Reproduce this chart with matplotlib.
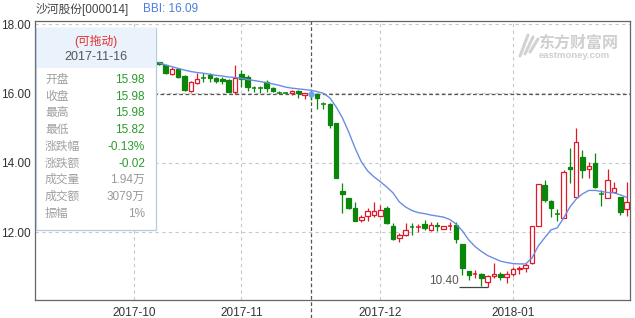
import matplotlib
matplotlib.use("Agg")
import matplotlib.pyplot as plt
from matplotlib.patches import Rectangle
import numpy as np

plt.rcParams['font.family'] = ['Liberation Sans', 'Noto Sans CJK SC', 'DejaVu Sans']

# trading-day index (0 = first trading day of 2017-10)
first_day = 4
opens = [16.90, 16.82, 16.57, 16.70, 16.51, 16.08, 16.29, 16.44, 16.52, 16.44,
         16.40, 16.38, 16.03, 16.56, 16.48, 16.16, 16.15, 16.34, 16.16, 16.03,
         16.02, 16.00, 16.08, 15.95, 15.98, 15.97, 15.70, 15.70, 15.14, 13.19,
         12.97, 12.68, 12.35, 12.46, 12.49, 12.47, 12.70, 12.17, 11.84, 11.91,
         12.16, 12.14, 12.23, 12.07, 12.20, 12.10, 12.15, 12.20, 11.65, 10.88,
         10.79, 10.79, 10.57, 10.73, 10.79, 10.70, 10.79, 10.93, 10.95, 11.10,
         12.18, 13.36, 12.89, 12.53, 12.41, 13.88, 13.02, 14.17, 13.81, 13.98,
         13.10, 12.99, 13.16, 13.02, 12.66]
highs = [16.91, 16.83, 16.76, 16.71, 16.52, 16.37, 16.58, 16.58, 16.58, 16.46,
         16.48, 16.41, 16.82, 16.67, 16.53, 16.22, 16.21, 16.38, 16.18, 16.06,
         16.05, 16.10, 16.10, 16.02, 15.98, 15.98, 15.76, 15.72, 15.14, 13.40,
         12.98, 12.87, 12.49, 12.68, 12.87, 12.78, 12.76, 12.27, 11.96, 12.27,
         12.25, 12.23, 12.34, 12.29, 12.29, 12.18, 12.30, 12.30, 11.65, 10.88,
         10.90, 10.83, 10.75, 11.10, 10.85, 10.88, 11.00, 11.02, 11.12, 12.16,
         13.38, 13.50, 12.91, 12.67, 13.80, 14.41, 14.99, 14.37, 14.01, 14.27,
         13.21, 13.81, 13.45, 13.02, 13.45]
lows = [16.83, 16.57, 16.52, 16.45, 16.08, 16.05, 16.27, 16.32, 16.34, 16.30,
        16.28, 16.03, 15.97, 16.19, 16.07, 16.03, 16.01, 16.03, 16.03, 15.97,
        15.97, 15.96, 15.87, 15.83, 15.82, 15.55, 15.55, 14.99, 13.55, 12.54,
        12.66, 12.31, 12.30, 12.33, 12.44, 12.45, 12.24, 11.77, 11.70, 11.88,
        11.91, 11.99, 12.07, 12.04, 12.04, 12.08, 12.06, 11.67, 10.76, 10.62,
        10.68, 10.45, 10.40, 10.67, 10.62, 10.52, 10.72, 10.79, 10.85, 11.07,
        12.18, 12.86, 12.44, 12.32, 12.40, 13.40, 13.00, 13.55, 13.57, 13.26,
        12.76, 12.99, 13.15, 12.49, 12.47]
closes = [16.84, 16.58, 16.70, 16.46, 16.10, 16.34, 16.41, 16.42, 16.44, 16.36,
          16.36, 16.05, 16.45, 16.41, 16.19, 16.14, 16.14, 16.16, 16.07, 16.01,
          16.01, 16.08, 16.00, 16.02, 15.98, 15.87, 15.67, 15.09, 13.57, 13.09,
          12.70, 12.33, 12.44, 12.62, 12.62, 12.64, 12.25, 11.80, 11.91, 12.06,
          12.14, 12.16, 12.13, 12.20, 12.16, 12.16, 12.18, 11.79, 10.95, 10.76,
          10.81, 10.68, 10.73, 10.79, 10.70, 10.79, 10.93, 10.96, 11.05, 12.16,
          13.38, 12.92, 12.70, 12.52, 13.74, 13.81, 14.61, 13.79, 13.90, 13.31,
          13.09, 13.50, 13.26, 12.59, 12.86]
bbi = [16.88, 16.82, 16.77, 16.72, 16.67, 16.63, 16.60, 16.58, 16.55, 16.52,
       16.50, 16.47, 16.46, 16.43, 16.40, 16.37, 16.34, 16.31, 16.27, 16.23,
       16.18, 16.15, 16.13, 16.11, 16.09, 16.05, 16.00, 15.87, 15.61, 15.29,
       14.88, 14.42, 14.02, 13.76, 13.59, 13.45, 13.30, 13.13, 12.87, 12.72,
       12.62, 12.56, 12.53, 12.49, 12.46, 12.43, 12.36, 12.23, 12.03, 11.77,
       11.58, 11.44, 11.32, 11.24, 11.16, 11.12, 11.09, 11.08, 11.08, 11.25,
       11.60, 11.83, 12.06, 12.12, 12.40, 12.72, 12.95, 13.10, 13.20, 13.20,
       13.17, 13.14, 13.13, 13.07, 13.00]

month_idx = [0, 17, 39, 60]
month_labels = ['2017-10', '2017-11', '2017-12', '2018-01']
y_ticks = [12, 14, 16, 18]

sel_idx = 28
sel_date = '2017-11-16'
low_label = '10.40'
low_label_idx = 56

info_labels = ['开盘', '收盘', '最高', '最低', '涨跌幅', '涨跌额', '成交量', '成交额', '振幅']
info_values = ['15.98', '15.98', '15.98', '15.82', '-0.13%', '-0.02', '1.94万', '3079万', '1%']
info_green = [True, True, True, True, True, True, False, False, False]

RED = '#e0182a'
GREEN = '#0a870a'
BLUE = '#6a8de4'
W, H = 635, 318


def fx(x):
    return x / W


def fy(y):
    return 1 - y / H


fig = plt.figure(figsize=(6.35, 3.18), dpi=100)
ax = fig.add_axes([fx(35), fy(300), (630 - 35) / W, (300 - 21) / H])

x = np.arange(len(opens)) + first_day
o = np.array(opens)
c = np.array(closes)
up = c > o
cols = np.where(up, RED, GREEN)

ax.vlines(x, lows, highs, colors=cols, linewidth=0.9, zorder=3)
body_w = 0.72
bottom = np.minimum(o, c)
height = np.abs(c - o)
doji = height < 0.03
for xi, b, h, u, d in zip(x, bottom, height, up, doji):
    col = RED if u else GREEN
    if d:
        ax.hlines(b + h / 2, xi - body_w / 2, xi + body_w / 2, colors=col,
                  linewidth=1.1, zorder=4)
    else:
        ax.bar(xi, h, body_w, bottom=b, facecolor='white' if u else col,
               edgecolor=col, linewidth=0.9, zorder=4)

ax.plot(x, bbi, color=BLUE, linewidth=1.0, zorder=5)
ax.plot(sel_idx, closes[sel_idx - first_day], 'o', color='#6aa6f2', ms=3.5, zorder=6)

# grid
for yv in y_ticks:
    ax.axhline(yv, color='#c8c8c8', linewidth=0.8, linestyle=(0, (3, 3)), zorder=1)
for xv in month_idx:
    ax.axvline(xv, color='#c8c8c8', linewidth=0.8, linestyle=(0, (3, 3)), zorder=1)

# crosshair
ax.axhline(closes[sel_idx - first_day], color='#555555', linewidth=0.9,
           linestyle=(0, (3, 2)), zorder=2)
ax.axvline(sel_idx, ymin=-18 / 279, ymax=1, color='#555555', linewidth=0.9,
           linestyle=(0, (3, 2)), zorder=2, clip_on=False)

# lowest price marker
ax.hlines(float(low_label), 51.45, low_label_idx, colors='#444444', linewidth=0.9, zorder=6)
ax.text(51.4, float(low_label) + 0.02, low_label, ha='right', va='bottom',
        fontsize=8.5, color='#555555', zorder=6)

ax.set_xlim(-15.67, 78.52)
ax.set_ylim(10.039, 18.087)
ax.set_yticks(y_ticks)
ax.set_yticklabels(['%.2f' % v for v in y_ticks])
ax.set_xticks(month_idx)
ax.set_xticklabels(month_labels)
ax.tick_params(length=0, labelsize=8.5, labelcolor='#333333')
ax.tick_params(axis='y', pad=3)
ax.tick_params(axis='x', pad=5)
for sp in ax.spines.values():
    sp.set_color('#666666')
    sp.set_linewidth(0.9)

# title
fig.text(fx(36), fy(9), '沙河股份[000014]', fontsize=8.5, color='#444444', va='center')
fig.text(fx(143), fy(9), 'BBI: 16.09', fontsize=8.5, color='#4a7de0', va='center')

# watermark
fig.text(fx(538), fy(48), '东方财富网', fontsize=11.5, fontweight='bold',
         color='#cfcfcf', va='baseline', family=['Noto Sans CJK SC'])
fig.text(fx(539), fy(58), 'eastmoney.com', fontsize=6.8, fontweight='bold',
         color='#cfcfcf', va='baseline')
for k in range(3):
    fig.add_artist(plt.Line2D([fx(520 + k * 5), fx(528 + k * 5)],
                              [fy(56 - k * 2), fy(35 + k * 2)],
                              color='#d2d2d2', linewidth=2.2, solid_capstyle='round'))

# info box
fig.add_artist(Rectangle((fx(36), fy(230)), 120 / W, 202.5 / H,
                         transform=fig.transFigure, facecolor='white',
                         edgecolor='#b4cbe3', linewidth=0.9, zorder=2))
fig.add_artist(Rectangle((fx(36.5), fy(68)), 119 / W, 40 / H,
                         transform=fig.transFigure, facecolor='#eaf2fb',
                         edgecolor='none', zorder=2))
fig.text(fx(96), fy(41), '(可拖动)', fontsize=8.5, color='#e03030', ha='center',
         va='center', zorder=4)
fig.text(fx(96), fy(57), sel_date, fontsize=9, color='#555555', ha='center',
         va='center', zorder=4)
for k, (lab, val, g) in enumerate(zip(info_labels, info_values, info_green)):
    yy = 80 + k * 16.7
    fig.text(fx(45), fy(yy), lab, fontsize=8.5, color='#a0a0a0', va='center', zorder=4)
    fig.text(fx(145), fy(yy), val, fontsize=8.5, color='#2a9a2a' if g else '#999999',
             ha='right', va='center', zorder=4)

fig.savefig('out.png', dpi=100)
